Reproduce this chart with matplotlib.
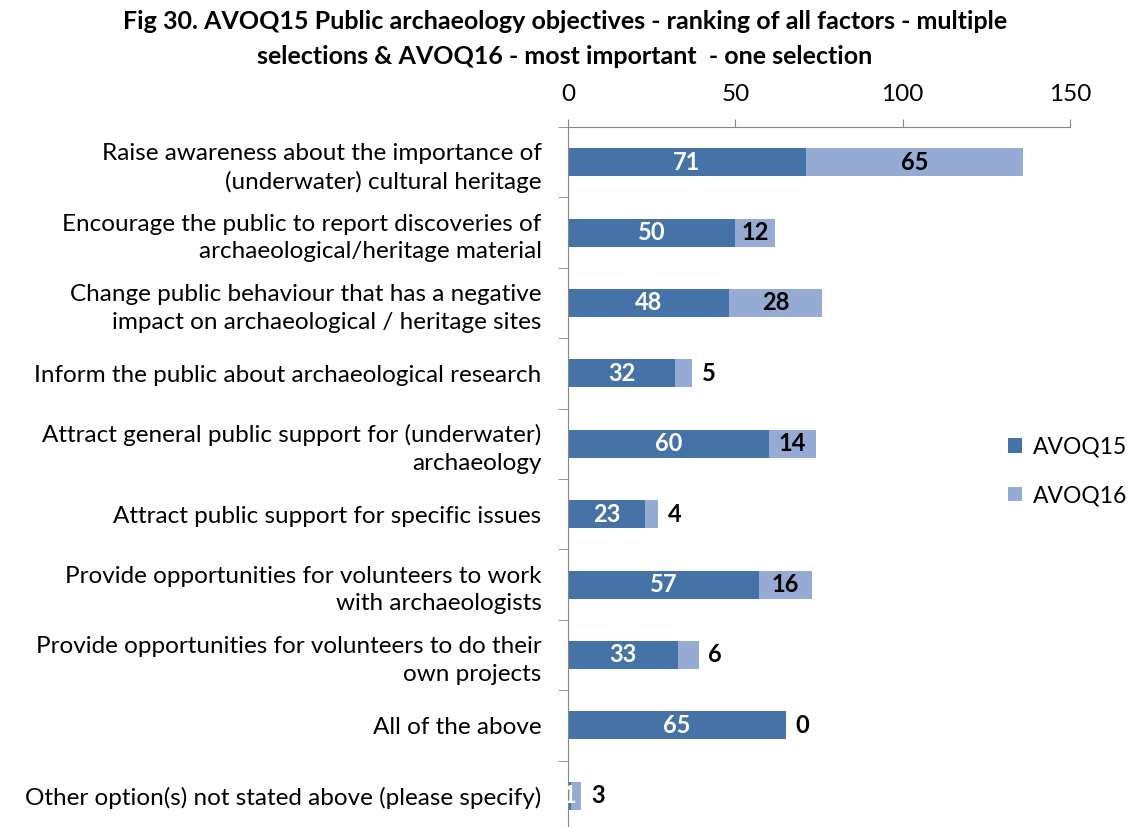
import matplotlib.pyplot as plt
import numpy as np

# data
categories = [
    'Raise awareness about the importance of\n(underwater) cultural heritage',
    'Encourage the public to report discoveries of\narchaeological/heritage material',
    'Change public behaviour that has a negative\nimpact on archaeological / heritage sites',
    'Inform the public about archaeological research',
    'Attract general public support for (underwater)\narchaeology',
    'Attract public support for specific issues',
    'Provide opportunities for volunteers to work\nwith archaeologists',
    'Provide opportunities for volunteers to do their\nown projects',
    'All of the above',
    'Other option(s) not stated above (please specify)',
]
avoq15 = [71, 50, 48, 32, 60, 23, 57, 33, 65, 1]
avoq16 = [65, 12, 28, 5, 14, 4, 16, 6, 0, 3]
x_ticks = [0, 50, 100, 150]

c15 = '#4673A7'
c16 = '#95ABD3'
grey = '#868686'

plt.rcParams['font.family'] = ['Lato', 'DejaVu Sans']

fig = plt.figure(figsize=(11.36, 8.27), dpi=100)
ax = fig.add_axes([568 / 1136, -4 / 827, 502 / 1136, 704 / 827])

y = np.arange(len(categories))
h = 0.4
b1 = ax.barh(y, avoq15, height=h, color=c15, label='AVOQ15')
b2 = ax.barh(y, avoq16, left=avoq15, height=h, color=c16, label='AVOQ16')

# data labels
for i in range(len(categories)):
    ax.text(avoq15[i] / 2, y[i], str(avoq15[i]), ha='center', va='center',
            color='white', fontsize=17, fontweight='bold')
    if avoq16[i] >= 10:
        ax.text(avoq15[i] + avoq16[i] / 2, y[i], str(avoq16[i]), ha='center',
                va='center', color='black', fontsize=17, fontweight='bold')
    else:
        ax.annotate(str(avoq16[i]), (avoq15[i] + avoq16[i], y[i]),
                    xytext=(7, 0), textcoords='offset points', ha='left',
                    va='center', color='black', fontsize=17, fontweight='bold')

ax.set_xlim(0, 150)
ax.set_ylim(len(categories) - 0.5, -0.5)
ax.xaxis.tick_top()
ax.set_xticks(x_ticks)
ax.tick_params(axis='x', direction='out', length=6, color=grey, labelsize=17.5, pad=10)

ax.set_yticks(y)
ax.set_yticklabels(categories, fontsize=17.5, linespacing=1.4)
ax.tick_params(axis='y', length=0, pad=19)
ax.set_yticks(np.arange(len(categories) + 1) - 0.5, minor=True)
ax.tick_params(axis='y', which='minor', length=7, color=grey, direction='out')

for s in ['right', 'bottom']:
    ax.spines[s].set_visible(False)
for s in ['top', 'left']:
    ax.spines[s].set_color(grey)

fig.text(0.497, 0.988, 'Fig 30. AVOQ15 Public archaeology objectives - ranking of all factors - multiple\n'
         'selections & AVOQ16 - most important  - one selection',
         ha='center', va='top', fontsize=18, fontweight='bold', linespacing=1.65)

fig.legend(handles=[b1, b2], loc='center left', bbox_to_anchor=(0.869, 0.43),
           frameon=False, fontsize=16.5, handlelength=0.6, handleheight=0.6,
           labelspacing=1.2, handletextpad=0.5)

fig.savefig('out.png', dpi=100)
